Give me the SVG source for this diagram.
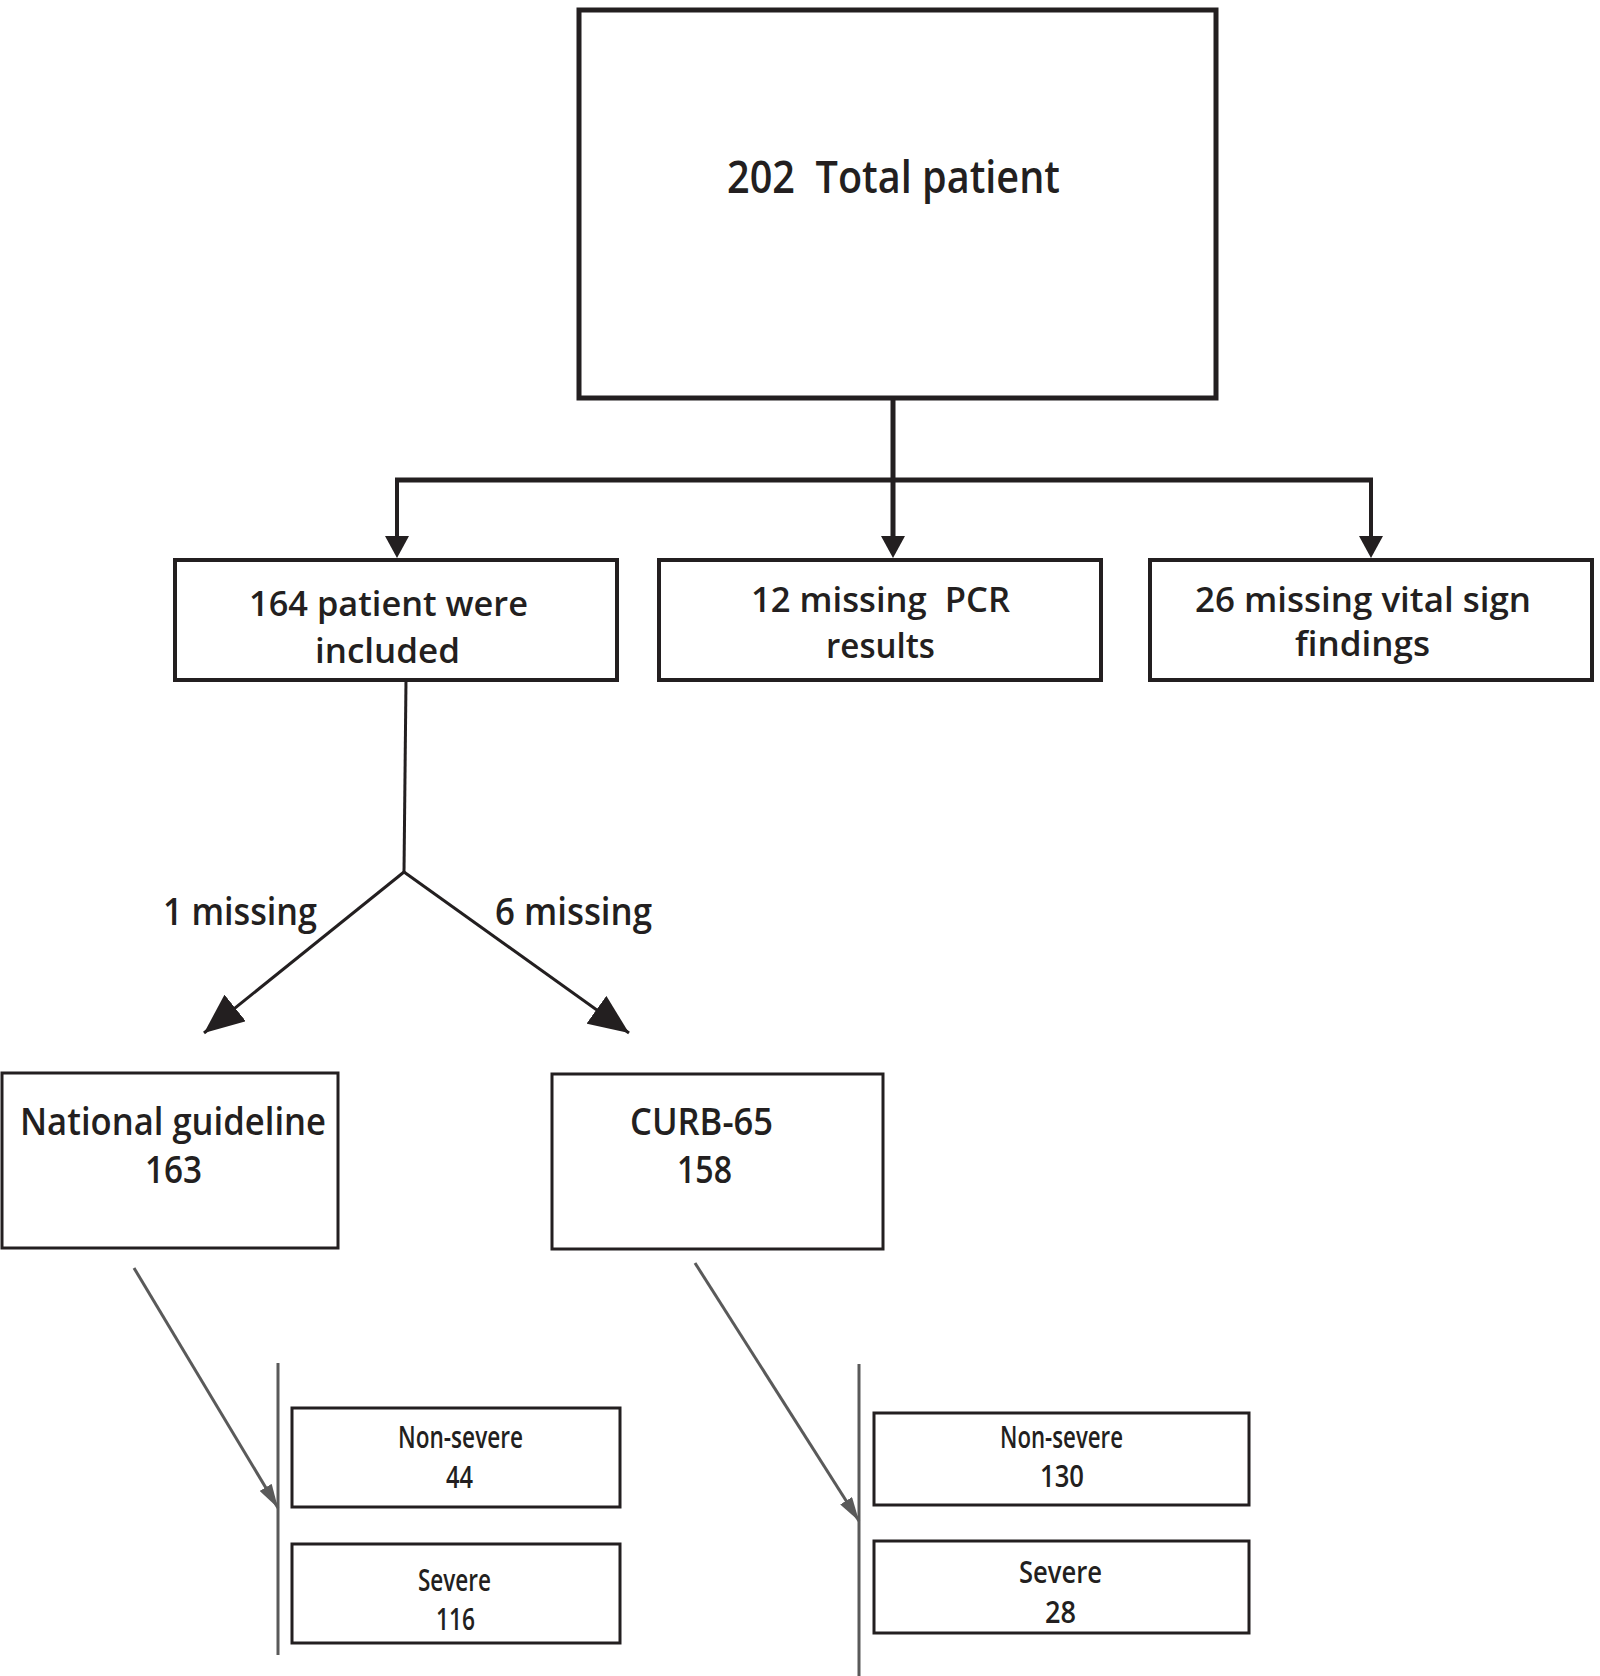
<svg xmlns="http://www.w3.org/2000/svg" width="1600" height="1676" viewBox="0 0 1600 1676">
<style>
.t{font-family:"Open Sans","Liberation Sans",sans-serif;fill:#231f20;font-weight:600}
.b{fill:#fff;stroke:#231f20}
.k{stroke:#231f20;fill:none}
.g{stroke:#5a5a5a;fill:none;stroke-width:3}
</style>
<defs>
<marker id="av" markerUnits="userSpaceOnUse" viewBox="0 0 40 34" refX="40" refY="17" markerWidth="40" markerHeight="34" orient="auto">
<path d="M0,0 L40,17 L0,34 Z" fill="#231f20"/>
</marker>
<marker id="ag" markerUnits="userSpaceOnUse" viewBox="0 0 24 14" refX="24" refY="7" markerWidth="24" markerHeight="14" orient="auto">
<path d="M0,0 L24,7 L0,14 Z" fill="#5a5a5a"/>
</marker>
</defs>
<rect width="1600" height="1676" fill="#fff"/>
<g id="connectors">
<line class="k" stroke-width="5" x1="893" y1="398" x2="893" y2="537"/>
<path d="M893,558 l-12,-22 h24 z" fill="#231f20"/>
<line class="k" stroke-width="5" x1="395" y1="480" x2="1373" y2="480"/>
<line class="k" stroke-width="4" x1="397" y1="480" x2="397" y2="537"/>
<path d="M397,558 l-12,-22 h24 z" fill="#231f20"/>
<line class="k" stroke-width="4" x1="1371" y1="480" x2="1371" y2="537"/>
<path d="M1371,558 l-12,-22 h24 z" fill="#231f20"/>
<polyline class="k" stroke-width="3" points="406,680 404,872"/>
<line class="k" stroke-width="3" x1="404" y1="872" x2="204" y2="1033" marker-end="url(#av)"/>
<line class="k" stroke-width="3" x1="404" y1="872" x2="629" y2="1033" marker-end="url(#av)"/>
<line class="g" x1="134" y1="1268" x2="278" y2="1508" marker-end="url(#ag)"/>
<line class="g" x1="278" y1="1363" x2="278" y2="1655"/>
<line class="g" x1="695" y1="1263" x2="859" y2="1521" marker-end="url(#ag)"/>
<line class="g" x1="859" y1="1364" x2="859" y2="1676"/>
</g>
<g id="n-total">
<rect class="b" x="579" y="10" width="637" height="388" stroke-width="5"/>
<text class="t" x="727" y="193" font-size="45" textLength="333" lengthAdjust="spacingAndGlyphs" xml:space="preserve">202  Total patient</text>
</g>
<g id="n-included">
<rect class="b" x="175" y="560" width="442" height="120" stroke-width="4"/>
<text class="t" x="249" y="616" font-size="35" textLength="279" lengthAdjust="spacingAndGlyphs">164 patient were</text>
<text class="t" x="315" y="663" font-size="35" textLength="145" lengthAdjust="spacingAndGlyphs">included</text>
</g>
<g id="n-pcr">
<rect class="b" x="659" y="560" width="442" height="120" stroke-width="4"/>
<text class="t" x="751" y="612" font-size="35" textLength="259" lengthAdjust="spacingAndGlyphs" xml:space="preserve">12 missing  PCR</text>
<text class="t" x="826" y="658" font-size="35" textLength="109" lengthAdjust="spacingAndGlyphs">results</text>
</g>
<g id="n-vital">
<rect class="b" x="1150" y="560" width="442" height="120" stroke-width="4"/>
<text class="t" x="1195" y="612" font-size="35" textLength="336" lengthAdjust="spacingAndGlyphs">26 missing vital sign</text>
<text class="t" x="1295" y="656" font-size="35" textLength="135" lengthAdjust="spacingAndGlyphs">findings</text>
</g>
<g id="l-missing1">
<text class="t" x="163" y="925" font-size="38" textLength="154" lengthAdjust="spacingAndGlyphs">1 missing</text>
</g>
<g id="l-missing6">
<text class="t" x="495" y="925" font-size="38" textLength="157" lengthAdjust="spacingAndGlyphs">6 missing</text>
</g>
<g id="n-national">
<rect class="b" x="2" y="1073" width="336" height="175" stroke-width="3"/>
<text class="t" x="20" y="1135" font-size="37" textLength="306" lengthAdjust="spacingAndGlyphs">National guideline</text>
<text class="t" x="145" y="1183" font-size="37" textLength="57" lengthAdjust="spacingAndGlyphs">163</text>
</g>
<g id="n-curb">
<rect class="b" x="552" y="1074" width="331" height="175" stroke-width="3"/>
<text class="t" x="630" y="1135" font-size="37" textLength="143" lengthAdjust="spacingAndGlyphs">CURB-65</text>
<text class="t" x="677" y="1183" font-size="37" textLength="55" lengthAdjust="spacingAndGlyphs">158</text>
</g>
<g id="n-ng-nonsevere">
<rect class="b" x="292" y="1408" width="328" height="99" stroke-width="3"/>
<text class="t" x="398" y="1448" font-size="30" textLength="125" lengthAdjust="spacingAndGlyphs">Non-severe</text>
<text class="t" x="446" y="1488" font-size="30" textLength="27" lengthAdjust="spacingAndGlyphs">44</text>
</g>
<g id="n-ng-severe">
<rect class="b" x="292" y="1544" width="328" height="99" stroke-width="3"/>
<text class="t" x="418" y="1591" font-size="30" textLength="73" lengthAdjust="spacingAndGlyphs">Severe</text>
<text class="t" x="436" y="1630" font-size="30" textLength="39" lengthAdjust="spacingAndGlyphs">116</text>
</g>
<g id="n-cu-nonsevere">
<rect class="b" x="874" y="1413" width="375" height="92" stroke-width="3"/>
<text class="t" x="1000" y="1448" font-size="30" textLength="123" lengthAdjust="spacingAndGlyphs">Non-severe</text>
<text class="t" x="1040" y="1487" font-size="30" textLength="44" lengthAdjust="spacingAndGlyphs">130</text>
</g>
<g id="n-cu-severe">
<rect class="b" x="874" y="1541" width="375" height="92" stroke-width="3"/>
<text class="t" x="1019" y="1583" font-size="30" textLength="83" lengthAdjust="spacingAndGlyphs">Severe</text>
<text class="t" x="1045" y="1623" font-size="30" textLength="31" lengthAdjust="spacingAndGlyphs">28</text>
</g>
</svg>
